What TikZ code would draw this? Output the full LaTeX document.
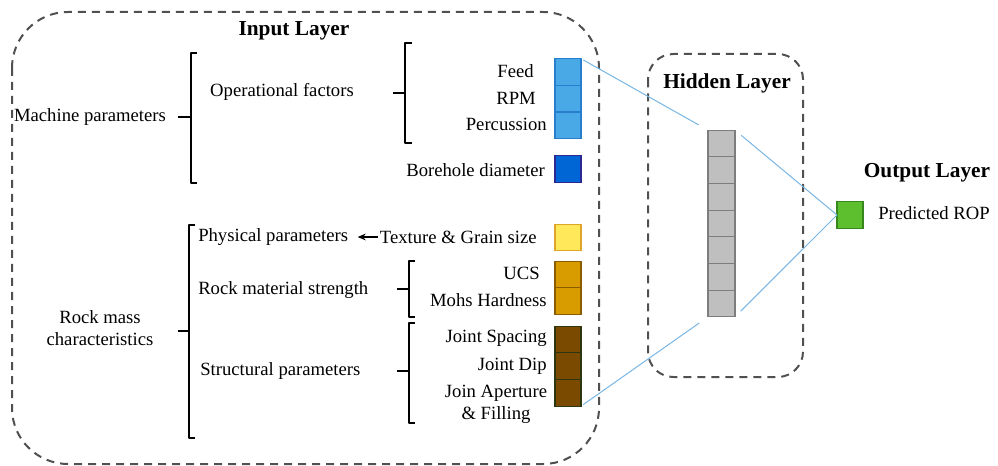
\documentclass[tikz,border=0pt]{standalone}
\usepackage{fontspec}
\setmainfont{Liberation Serif}
\usetikzlibrary{arrows.meta,positioning}
\definecolor{skyblue}{RGB}{72,169,230}
\definecolor{skyedge}{RGB}{40,125,205}
\definecolor{deepblue}{RGB}{0,102,214}
\definecolor{deepedge}{RGB}{45,40,150}
\definecolor{sand}{RGB}{255,233,90}
\definecolor{sandedge}{RGB}{222,165,40}
\definecolor{gold}{RGB}{217,156,0}
\definecolor{goldedge}{RGB}{140,92,0}
\definecolor{earth}{RGB}{122,74,0}
\definecolor{earthedge}{RGB}{45,55,15}
\definecolor{cellgray}{RGB}{191,191,191}
\definecolor{celledge}{RGB}{125,125,125}
\definecolor{leaf}{RGB}{93,190,46}
\definecolor{leafedge}{RGB}{55,135,30}
\definecolor{boxgray}{RGB}{80,80,80}
\definecolor{linkblue}{RGB}{120,182,228}

\begin{document}
\begin{tikzpicture}[x=0.75pt, y=-0.75pt,
    every node/.style={font=\fontsize{14}{16.5}\selectfont},
    lbl/.style={inner sep=0pt},
    title/.style={inner sep=0pt, font=\fontsize{16}{19}\selectfont\bfseries},
    cell/.style={draw, minimum width=19.5pt, minimum height=20pt, inner sep=0pt, outer sep=0pt, line width=0.9pt},
    layerbox/.style={draw=boxgray, line width=1.5pt, dash pattern=on 6pt off 4.5pt},
    brace/.style={line width=1.1pt, line join=round},
    link/.style={draw=linkblue, line width=0.75pt}]
  \useasboundingbox (0,0) rectangle (998,466);

  % layer frames
  \draw[layerbox, rounded corners=42pt] (12,12) rectangle (599,464);
  \draw[layerbox, rounded corners=19pt] (648,54) rectangle (803,377);
  \node[title] (intitle) at (294,31) {Input Layer};
  \node[title] (hidtitle) at (727,83) {Hidden Layer};
  \node[title] (outtitle) at (927,173) {Output Layer};

  % groups
  \node[lbl] (machine) at (90,117) {Machine parameters};
  \node[lbl] (oper) at (282,92) {Operational factors};
  \node[lbl, align=center] (rock) at (100,328) {Rock mass\\characteristics};
  \node[lbl, anchor=west] (phys) at (198,237) {Physical parameters};
  \node[lbl, anchor=west] (strength) at (198,290) {Rock material strength};
  \node[lbl, anchor=west] (struct) at (200,371) {Structural parameters};

  % inputs
  \node[lbl, anchor=east] (feed) at (534,71) {Feed};
  \node[lbl, anchor=east] (rpm) at (536,98) {RPM};
  \node[lbl, anchor=east] (perc) at (547,124) {Percussion};
  \node[lbl, anchor=east] (bore) at (545,170) {Borehole diameter};
  \node[lbl, anchor=east] (texture) at (537,237) {Texture \& Grain size};
  \node[lbl, anchor=east] (ucs) at (540,273) {UCS};
  \node[lbl, anchor=east] (mohs) at (547,300) {Mohs Hardness};
  \node[lbl, anchor=east] (spacing) at (547,338) {Joint Spacing};
  \node[lbl, anchor=east] (dip) at (547,366) {Joint Dip};
  \node[lbl, align=center] (aperture) at (496,404) {Join Aperture\\\& Filling};

  \draw[line width=1pt, -{Stealth[length=6pt,width=5pt]}, shorten <=1.5pt, shorten >=7pt] (texture.west) -- (phys.east);

  % braces
  \draw[brace] (197,53) -- (191,53) -- (191,183) -- (197,183) (178,117) -- (191,117);
  \draw[brace] (412,43) -- (405,43) -- (405,143) -- (412,143) (393,93) -- (405,93);
  \draw[brace] (195,225) -- (189,225) -- (189,438) -- (195,438) (178,331) -- (189,331);
  \draw[brace] (415,261) -- (409,261) -- (409,317) -- (415,317) (397,289) -- (409,289);
  \draw[brace] (415,323) -- (409,323) -- (409,423) -- (415,423) (397,371) -- (409,371);

  % input cells
  \node[cell, fill=skyblue, draw=skyedge] (feedcell) at (568,72) {};
  \node[cell, fill=skyblue, draw=skyedge, below=0pt of feedcell] (rpmcell) {};
  \node[cell, fill=skyblue, draw=skyedge, below=0pt of rpmcell] (perccell) {};
  \node[cell, fill=deepblue, draw=deepedge] (borecell) at (568,169) {};
  \node[cell, fill=sand, draw=sandedge] (texcell) at (568,237.5) {};
  \node[cell, fill=gold, draw=goldedge] (ucscell) at (568,274.5) {};
  \node[cell, fill=gold, draw=goldedge, below=0pt of ucscell] (mohscell) {};
  \node[cell, fill=earth, draw=earthedge] (spcell) at (568,339.5) {};
  \node[cell, fill=earth, draw=earthedge, below=0pt of spcell] (dipcell) {};
  \node[cell, fill=earth, draw=earthedge, below=0pt of dipcell] (apcell) {};

  % hidden cells
  \node[cell, fill=cellgray, draw=celledge, minimum width=20.25pt] (h1) at (721.5,143.5) {};
  \foreach \i [remember=\i as \j (initially 1)] in {2,...,7}
    \node[cell, fill=cellgray, draw=celledge, minimum width=20.25pt, below=0pt of h\j] (h\i) {};

  % output
  \node[cell, fill=leaf, draw=leafedge] (out) at (850,215) {};
  \node[lbl, anchor=west] (rop) at (878,213) {Predicted ROP};

  % links
  \draw[link, shorten <=2pt, shorten >=8pt] (feedcell.north east) -- (h1.north west);
  \draw[link, shorten <=2pt, shorten >=8pt] (apcell.south east) -- (h7.south west);
  \draw[link, shorten <=6pt] (h1.north east) -- (out.west);
  \draw[link, shorten <=6pt] (h7.south east) -- (out.west);
\end{tikzpicture}
\end{document}
